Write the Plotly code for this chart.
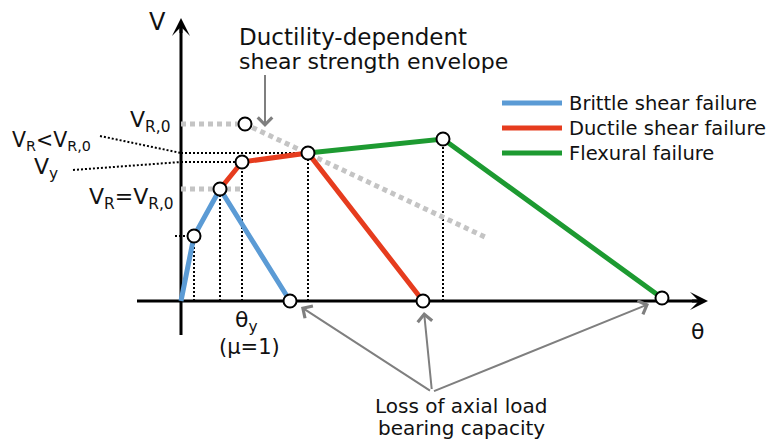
import plotly.graph_objects as go

# ---------------- data (theta, V in drawing units; origin at 0,0) ----------------
theta_brittle = [0, 13, 39, 109]
V_brittle = [0, 65, 112, 0]
theta_ductile = [39, 61, 127, 242]
V_ductile = [112, 139, 148, 0]
theta_flexural = [127, 262, 481]
V_flexural = [148, 162, 3]
theta_envelope = [0, 64, 304]          # ductility-dependent shear strength envelope
V_envelope = [177, 177, 64]
theta_vr_eq = [0, 59]                  # V_R = V_R,0 level
V_vr_eq = [112, 112]

series_names = ["Brittle shear failure", "Ductile shear failure", "Flexural failure"]
series_colors = ["#5b9bd5", "#e63c1e", "#1d9a31"]

FONT = "DejaVu Sans"
PAGE_W, PAGE_H = 775, 440
BODY = 8                       # default page margin around the figure
W, H = PAGE_W - BODY, PAGE_H - BODY
OX, OY = 181, 301              # page pixel location of origin


def px(x, y):
    """convert a page pixel position to drawing units (layout helper)"""
    return x - OX, OY - y


fig = go.Figure()

# axes lines
fig.add_trace(go.Scatter(x=[px(137, 0)[0], px(700, 0)[0]], y=[0, 0], mode="lines",
                         line=dict(color="black", width=3), hoverinfo="skip"))
fig.add_trace(go.Scatter(x=[0, 0], y=[px(0, 335)[1], px(0, 28)[1]], mode="lines",
                         line=dict(color="black", width=3), hoverinfo="skip"))

# black dotted guide lines
dx, dy = [], []
key_pts = [(theta_brittle[1], V_brittle[1]), (theta_brittle[2], V_brittle[2]),
           (theta_ductile[1], V_ductile[1]), (theta_ductile[2], V_ductile[2]),
           (theta_flexural[1], V_flexural[1])]
for t, v in key_pts:
    dx += [t, t, None]
    dy += [0, v, None]
# horizontal guides
dx += [0, theta_ductile[2], None, 0, theta_ductile[1], None, -6, theta_brittle[1], None]
dy += [V_ductile[2], V_ductile[2], None, V_ductile[1], V_ductile[1], None,
       V_brittle[1], V_brittle[1], None]
# leader lines from the labels
l1 = px(100, 136)
l2 = px(73, 170)
dx += [l1[0], 0, None, l2[0], 0, None]
dy += [l1[1], V_ductile[2], None, l2[1], V_ductile[1], None]
fig.add_trace(go.Scatter(x=dx, y=dy, mode="lines",
                         line=dict(color="black", width=2, dash="2px,2px"), hoverinfo="skip"))

# gray dashed envelope lines
fig.add_trace(go.Scatter(x=theta_envelope, y=V_envelope, mode="lines",
                         line=dict(color="#c4c4c4", width=5, dash="5px,4px"), hoverinfo="skip"))
fig.add_trace(go.Scatter(x=theta_vr_eq, y=V_vr_eq, mode="lines",
                         line=dict(color="#c4c4c4", width=5, dash="5px,4px"), hoverinfo="skip"))

# failure curves
for tx, vy, name, col in zip([theta_brittle, theta_ductile, theta_flexural],
                             [V_brittle, V_ductile, V_flexural], series_names, series_colors):
    fig.add_trace(go.Scatter(x=tx, y=vy, mode="lines", name=name,
                             line=dict(color=col, width=5)))

# circle markers at every key point
mx, my = [], []
for tx, vy in [(theta_brittle[1:], V_brittle[1:]), (theta_ductile[1:], V_ductile[1:]),
               (theta_flexural[1:], V_flexural[1:]), (theta_envelope[1:2], V_envelope[1:2])]:
    for t, v in zip(tx, vy):
        if (t, v) not in zip(mx, my):
            mx.append(t)
            my.append(v)
fig.add_trace(go.Scatter(x=mx, y=my, mode="markers",
                         marker=dict(size=13, color="white", line=dict(color="black", width=2)),
                         hoverinfo="skip"))

ann = []


def text(x, y, s, size=22, xa="center", ya="middle"):
    a, b = px(x, y)
    ann.append(dict(x=a, y=b, text=s, showarrow=False, xanchor=xa, yanchor=ya,
                    font=dict(family=FONT, size=size, color="#111111")))


def arrow(x0, y0, x1, y1, color, width, head, size=1.0):
    a0, b0 = px(x0, y0)
    a1, b1 = px(x1, y1)
    ann.append(dict(x=a1, y=b1, ax=a0, ay=b0, xref="x", yref="y", axref="x", ayref="y",
                    text=" ", showarrow=True, arrowcolor=color, arrowwidth=width,
                    arrowhead=head, arrowsize=size, standoff=0, font=dict(size=2)))


# axis arrowheads
arrow(690, 301, 708, 301, "black", 3, 3, 1.0)
arrow(181, 36, 181, 18, "black", 3, 3, 1.0)
# gray arrows
arrow(265, 72, 265, 127, "#7f7f7f", 2, 4, 1.4)
arrow(432, 392, 301, 307, "#7f7f7f", 2, 4, 1.4)
arrow(432, 392, 424, 312, "#7f7f7f", 2, 4, 1.4)
arrow(432, 392, 649, 304, "#7f7f7f", 2, 4, 1.4)

text(157, 22, "V", 24)
text(697, 331, "θ", 22)
text(246, 321, "θ<sub>y</sub>", 22)
text(249, 347, "(μ=1)", 21)
text(172, 121, "V<sub>R,0</sub>", 22, xa="right")
text(93, 141, "V<sub>R</sub>&lt;V<sub>R,0</sub>", 20.5, xa="right")
text(46, 168, "V<sub>y</sub>", 22)
text(176, 198, "V<sub>R</sub>=V<sub>R,0</sub>", 22, xa="right")
text(237, 37, "Ductility-dependent", 23, xa="left")
text(237, 61, "shear strength envelope", 22, xa="left")
text(461, 406, "Loss of axial load", 20)
text(461, 428, "bearing capacity", 20)

# manual legend
shapes = []
for i, (name, col) in enumerate(zip(series_names, series_colors)):
    yy = [103, 128, 153][i]
    a0, b0 = px(502, yy)
    a1, _ = px(562, yy)
    shapes.append(dict(type="line", x0=a0, x1=a1, y0=b0, y1=b0, xref="x", yref="y",
                       line=dict(color=col, width=5)))
    text(567, yy, name, 19.5, xa="left")

# figure sits BODY px from the page's top-left corner
x_lo = -(OX - BODY)
y_hi = OY - BODY
fig.update_layout(
    width=W, height=H, margin=dict(l=0, r=0, t=0, b=0),
    paper_bgcolor="white", plot_bgcolor="white", showlegend=False,
    xaxis=dict(range=[x_lo, x_lo + W], visible=False, fixedrange=True),
    yaxis=dict(range=[y_hi - H, y_hi], visible=False, fixedrange=True),
    annotations=ann, shapes=shapes,
)

fig.write_html("out.html")
